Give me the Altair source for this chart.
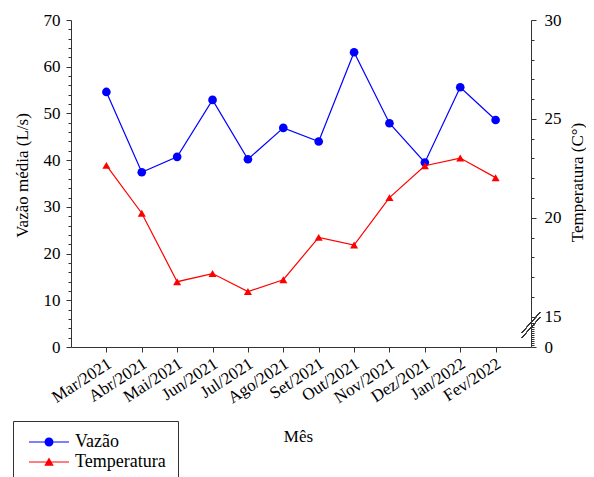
import altair as alt
import pandas as pd

# ---- data ----
months = ["Mar/2021", "Abr/2021", "Mai/2021", "Jun/2021", "Jul/2021", "Ago/2021",
          "Set/2021", "Out/2021", "Nov/2021", "Dez/2021", "Jan/2022", "Fev/2022"]
vazao = [54.6, 37.4, 40.7, 52.9, 40.2, 46.9, 44.0, 63.1, 47.9, 39.5, 55.6, 48.6]
temperatura = [22.65, 20.23, 16.77, 17.18, 16.27, 16.87, 19.01, 18.62, 21.02, 22.63, 23.02, 22.03]
series_names = ["Vazão", "Temperatura"]

left_tick_values = list(range(0, 71, 2))
right_tick_values = list(range(0, 13)) + list(range(15, 31))
right_label_values = [0, 15, 20, 25, 30]

df = pd.DataFrame({"mes": months, "vazao": vazao, "temp": temperatura})

W, H = 460, 327
FONT = "Liberation Serif"
FS = 17
BLUE = "#0000ff"
RED = "#ff0000"
AX = "#333333"

x_enc = alt.X(
    "mes:N",
    scale=alt.Scale(type="point", domain=months, padding=1),
    axis=alt.Axis(
        title="Mês", labelAngle=-33, labelAlign="right", labelBaseline="middle",
        labelPadding=10, labelOffset=3, tickSize=5, labelOverlap=False,
        titleX=227, titleY=89, titleAlign="center", titleBaseline="middle",
    ),
)

left_axis = alt.Axis(
    orient="left", title="Vazão média (L/s)", values=left_tick_values,
    labelExpr="datum.value % 10 === 0 ? datum.label : ''",
    tickSize={"condition": {"test": "datum.value % 10 === 0", "value": 5}, "value": 3},
    labelOverlap=False, labelFlush=False, labelPadding=6, grid=False,
    titleX=-49, titleY=155, titleAngle=270, titleAlign="center", titleBaseline="middle",
)

right_axis = alt.Axis(
    orient="right", title="Temperatura (C°)", values=right_tick_values,
    labelExpr="indexof([0,15,20,25,30], datum.value) >= 0 ? datum.label : ''",
    tickSize={"condition": {"test": "indexof([0,15,20,25,30], datum.value) >= 0", "value": 5}, "value": 3},
    labelOverlap=False, labelFlush=False, labelPadding=8, grid=False,
    titleX=46, titleY=162, titleAngle=270, titleAlign="center", titleBaseline="middle",
)

y_left_scale = alt.Scale(domain=[0, 70], nice=False, zero=False)
y_right_scale = alt.Scale(domain=[0, 15, 30], range=[H, H - 30.3, 0], nice=False, zero=False)

base = alt.Chart(df)

# Legend symbols: a line with a marker (custom paths; symbol size 100 -> 5px per unit)
path_circle = ("M-1,-0.12H7V0.12H-1Z "
               "M3.9,0A0.9,0.9 0 1,1 2.1,0A0.9,0.9 0 1,1 3.9,0Z")
path_tri = ("M-1,-0.12H7V0.12H-1Z "
            "M3,-0.9L3.95,0.75L2.05,0.75Z")

legend_def = alt.Legend(
    title=None, orient="none", legendX=-58, legendY=401,
    strokeColor="#333333", fillColor="white", padding=12, rowPadding=2,
    symbolSize=100, symbolOpacity=1, symbolStrokeWidth=0,
    labelFont=FONT, labelFontSize=18, labelColor="black", labelOffset=32,
)

vaz_line = base.mark_line(color=BLUE, strokeWidth=1.2).encode(
    x=x_enc, y=alt.Y("vazao:Q", scale=y_left_scale, axis=left_axis))
vaz_pts = base.mark_point(filled=True, shape="circle", size=75, color=BLUE, opacity=1).encode(
    x=x_enc, y=alt.Y("vazao:Q", scale=y_left_scale, axis=left_axis))
legend_layer = base.transform_calculate(serie="'Vazão'").mark_point(
    filled=True, opacity=0, size=100).encode(
    x=x_enc, y=alt.Y("vazao:Q", scale=y_left_scale, axis=left_axis),
    color=alt.Color("serie:N", scale=alt.Scale(domain=series_names, range=[BLUE, RED]), legend=legend_def),
    shape=alt.Shape("serie:N", scale=alt.Scale(domain=series_names, range=[path_circle, path_tri]), legend=legend_def),
)

tmp_line = base.mark_line(color=RED, strokeWidth=1.2).encode(
    x=x_enc, y=alt.Y("temp:Q", scale=y_right_scale, axis=right_axis))
tmp_pts = base.mark_point(filled=True, shape="triangle-up", size=65, color=RED, opacity=1).encode(
    x=x_enc, y=alt.Y("temp:Q", scale=y_right_scale, axis=right_axis))

# axis break marks on the right axis (in temperature units)
break_a = base.mark_rule(color=AX, strokeWidth=1).encode(
    x=alt.value(W - 9), x2=alt.value(W + 9),
    y=alt.Y(datum=7.18, scale=y_right_scale, axis=right_axis), y2=alt.datum(15.21))
break_b = base.mark_rule(color=AX, strokeWidth=1).encode(
    x=alt.value(W - 9), x2=alt.value(W + 9),
    y=alt.Y(datum=4.70, scale=y_right_scale, axis=right_axis), y2=alt.datum(14.6))

left_group = alt.layer(vaz_line, vaz_pts, legend_layer)
right_group = alt.layer(tmp_line, tmp_pts, break_a, break_b)

chart = alt.layer(left_group, right_group).resolve_scale(y="independent").properties(
    width=W, height=H, background="white",
    autosize=alt.AutoSizeParams(type="none"),
    padding={"left": 63, "top": 12, "right": 55, "bottom": 130},
).configure_view(stroke=None).configure_axis(
    labelFont=FONT, labelFontSize=FS, labelColor="black",
    titleFont=FONT, titleFontSize=FS, titleFontWeight="normal", titleColor="black",
    domainColor=AX, tickColor=AX, domainWidth=1, tickWidth=1,
).configure_legend(
    labelFont=FONT, labelFontSize=18, labelColor="black",
)

chart.save("out.html", embed_options={"renderer": "svg", "actions": False})
